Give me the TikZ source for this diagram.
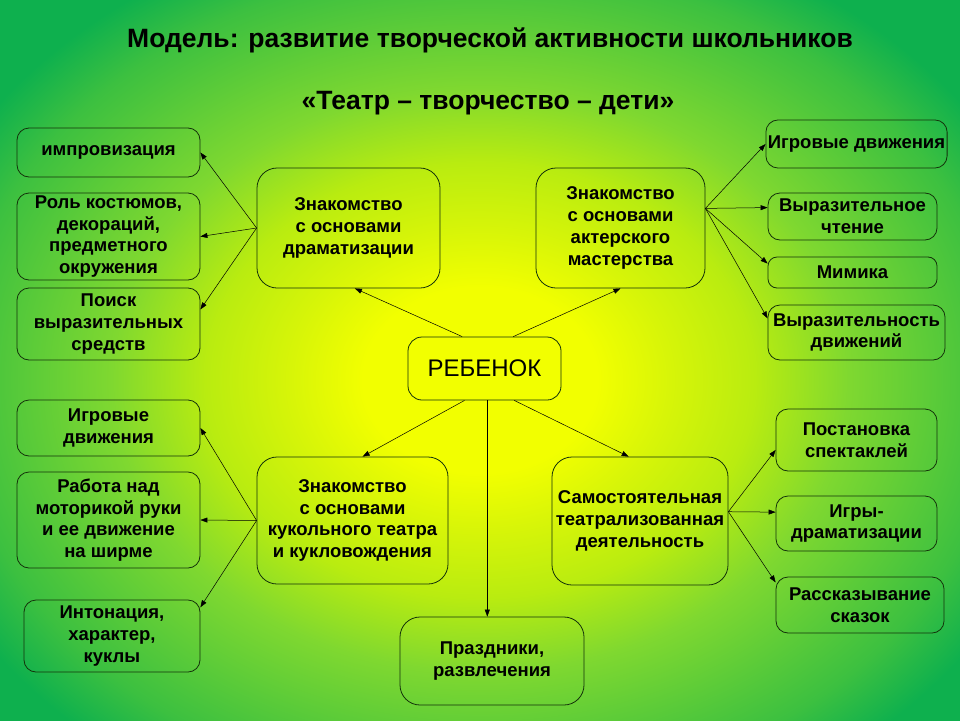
\documentclass[tikz,border=0pt]{standalone}
\usepackage{fontspec}
\setmainfont{Liberation Sans}
\usetikzlibrary{arrows.meta}

\definecolor{glowyellow}{RGB}{242,255,0}
\definecolor{sunyellow}{RGB}{215,245,8}
\definecolor{limegreen}{RGB}{185,236,16}
\definecolor{leafgreen}{RGB}{127,216,48}
\definecolor{grassgreen}{RGB}{60,192,64}
\definecolor{deepgreen}{RGB}{14,176,78}
\definecolor{rimline}{RGB}{20,50,10}
\pgfdeclareradialshading{stageglow}{\pgfpoint{0bp}{0bp}}{color(0bp)=(glowyellow); color(6.1bp)=(glowyellow); color(9.9bp)=(sunyellow); color(14.3bp)=(limegreen); color(19.2bp)=(leafgreen); color(27.3bp)=(grassgreen); color(31bp)=(deepgreen); color(50bp)=(deepgreen)}

\begin{document}
\begin{tikzpicture}[x=1pt,y=-1pt,
  box/.style={draw=rimline, line width=0.8pt, rounded corners=12pt, align=center,
    font=\fontsize{18.5}{21.7}\selectfont\bfseries, inner sep=2pt},
  bigbox/.style={box, rounded corners=20pt},
  arr/.style={-{Triangle[length=7pt,width=5pt]}, line width=0.5pt, black}]
\begin{scope}
\clip (0,0) rectangle (960,720);
\shade[shading=stageglow] (0,0) rectangle (960,760);
\end{scope}
\useasboundingbox (0,0) rectangle (960,720);

\node[font=\fontsize{26.5}{30}\selectfont\bfseries] (title) at (490,40) {Модель: развитие творческой активности школьников};
\node[font=\fontsize{26.5}{30}\selectfont\bfseries] (motto) at (488,103) {«Театр – творчество – дети»};

\node[box, rounded corners=14pt, minimum width=153pt, minimum height=63pt, font=\fontsize{24}{28}\selectfont] (child) at (484.5,368.5) {РЕБЕНОК};

\node[bigbox, minimum width=183pt, minimum height=120pt] (dram) at (348.5,228) {Знакомство\\с основами\\драматизации};
\node[bigbox, minimum width=169pt, minimum height=120pt] (akter) at (620.5,228) {Знакомство\\с основами\\актерского\\мастерства};
\node[bigbox, minimum width=191pt, minimum height=127pt] (kukl) at (352.5,520.5) {Знакомство\\с основами\\кукольного театра\\и кукловождения};
\node[bigbox, minimum width=176pt, minimum height=128pt] (samost) at (640,521) {Самостоятельная\\театрализованная\\деятельность};
\node[bigbox, minimum width=184pt, minimum height=88pt] (prazd) at (492,661) {Праздники,\\развлечения};

\node[box, minimum width=183pt, minimum height=49pt] (impro) at (108.5,152.5) {импровизация};
\node[box, minimum width=183pt, minimum height=87pt] (rol) at (108.5,236.5) {Роль костюмов,\\декораций,\\предметного\\окружения};
\node[box, minimum width=183pt, minimum height=72pt] (poisk) at (108.5,324) {Поиск\\выразительных\\средств};
\node[box, minimum width=183pt, minimum height=56pt] (ligry) at (108.5,428) {Игровые\\движения};
\node[box, minimum width=183pt, minimum height=96pt] (rabota) at (108.5,520) {Работа над\\моторикой руки\\и ее движение\\на ширме};
\node[box, minimum width=176pt, minimum height=72pt] (inton) at (112,636) {Интонация,\\характер,\\куклы};

\node[box, minimum width=177pt, minimum height=48pt] (rigry) at (856.5,144) {Игровые движения};
\node[box, minimum width=169pt, minimum height=47pt] (vyrch) at (852.5,216.5) {Выразительное\\чтение};
\node[box, minimum width=169pt, minimum height=31pt, rounded corners=9pt] (mimika) at (852.5,272.5) {Мимика};
\node[box, minimum width=177pt, minimum height=55pt] (vyrdv) at (856.5,332.5) {Выразительность\\движений};
\node[box, minimum width=161pt, minimum height=62pt] (postan) at (856.5,440) {Постановка\\спектаклей};
\node[box, minimum width=161pt, minimum height=55pt] (igrdram) at (856.5,523.5) {Игры-\\драматизации};
\node[box, minimum width=168pt, minimum height=56pt] (rasskaz) at (860,605) {Рассказывание\\сказок};

\draw[arr] (child.125) -- (dram.-84);
\draw[arr] (child.48) -- (akter.south);
\draw[arr] (child.-122) -- (kukl.81);
\draw[arr] (child.-85) -- (child.-85 |- prazd.north);
\draw[arr] (child.-47) -- (samost.100);

\draw[arr] (dram.west) -- (impro.east);
\draw[arr] (dram.west) -- (rol.east);
\draw[arr] (dram.west) -- (poisk.9);

\draw[arr] (kukl.west) -- (ligry.east);
\draw[arr] (kukl.west) -- (rabota.east);
\draw[arr] (kukl.west) -- (inton.18);

\draw[arr] (akter.13) -- (rigry.west);
\draw[arr] (akter.13) -- (vyrch.174);
\draw[arr] (akter.13) -- (mimika.174);
\draw[arr] (akter.13) -- (vyrdv.171);

\draw[arr] (samost.6) -- (postan.187);
\draw[arr] (samost.6) -- (igrdram.172);
\draw[arr] (samost.6) -- (rasskaz.165);
\end{tikzpicture}
\end{document}
